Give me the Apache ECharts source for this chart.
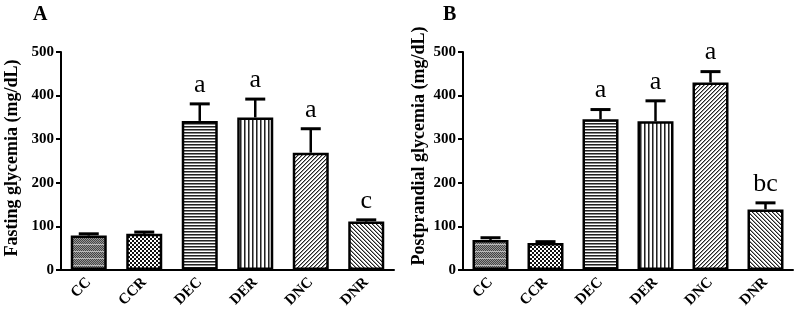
<!DOCTYPE html>
<html>
<head>
<meta charset="utf-8">
<script src="https://cdn.jsdelivr.net/npm/echarts@6/dist/echarts.min.js"></script>
<style>html,body{margin:0;padding:0;background:#fff}#c{width:800px;height:315px}</style>
</head>
<body>
<div id="c"></div>
<script>
var categories = ['CC', 'CCR', 'DEC', 'DER', 'DNC', 'DNR'];
var fastingMean = [79, 83, 342, 350, 269, 111];
var fastingSem = [4, 4, 39, 42, 55, 4];
var fastingLetters = ['', '', 'a', 'a', 'a', 'c'];
var postMean = [69, 62, 346, 341, 430, 139];
var postSem = [5, 3, 22, 47, 25, 15];
var postLetters = ['', '', 'a', 'a', 'a', 'bc'];
var yTicks = [0, 100, 200, 300, 400, 500];

var FONT = '"Liberation Serif", "Times New Roman", serif';

function tile(w, h, fn) {
  var c = document.createElement('canvas');
  c.width = w; c.height = h;
  var ctx = c.getContext('2d');
  ctx.fillStyle = '#fff'; ctx.fillRect(0, 0, w, h);
  for (var y = 0; y < h; y++) for (var x = 0; x < w; x++) {
    var col = fn(x, y);
    if (col) { ctx.fillStyle = col; ctx.fillRect(x, y, 1, 1); }
  }
  return { image: c, repeat: 'repeat' };
}
var patterns = [
  tile(2, 7, function (x, y) { if (y === 6) return '#bbb'; return ((x + y) % 2 === 0) ? '#444' : '#999'; }),
  tile(4, 4, function (x, y) { return ((Math.floor(x / 2) + Math.floor(y / 2)) % 2 === 0) ? '#111' : null; }),
  tile(1, 3, function (x, y) { return y === 0 ? '#222' : (y === 1 ? '#888' : null); }),
  tile(4, 1, function (x, y) { return x === 0 ? '#222' : (x === 1 ? '#888' : null); }),
  tile(4, 4, function (x, y) { var k = (x + y) % 4; return k === 0 ? '#222' : (k === 1 ? '#999' : null); }),
  tile(4, 4, function (x, y) { var k = ((x - y) % 4 + 4) % 4; return k === 0 ? '#222' : (k === 1 ? '#999' : null); })
];

function barData(vals) {
  return vals.map(function (v, i) {
    return { value: v, itemStyle: { color: patterns[i] } };
  });
}
function errData(mean, sem) {
  return mean.map(function (m, i) { return [i, m, sem[i]]; });
}
function errRender(letters) {
  return function (params, api) {
    var i = api.value(0), m = api.value(1), s = api.value(2);
    var p0 = api.coord([i, m]);
    var p1 = api.coord([i, m + s]);
    var children = [
      { type: 'line', shape: { x1: p0[0], y1: p0[1], x2: p1[0], y2: p1[1] }, style: { stroke: '#000', lineWidth: 2.5 } },
      { type: 'line', shape: { x1: p1[0] - 10, y1: p1[1], x2: p1[0] + 10, y2: p1[1] }, style: { stroke: '#000', lineWidth: 3 } }
    ];
    var lab = letters[params.dataIndex];
    if (lab) {
      children.push({ type: 'text', x: p1[0], y: p1[1] - 6, style: { text: lab, fill: '#000', font: '26px ' + FONT, textAlign: 'center', textVerticalAlign: 'bottom' } });
    }
    return { type: 'group', children: children };
  };
}

function yAxis(idx, name, gap, pad) {
  return {
    gridIndex: idx, type: 'value', min: yTicks[0], max: yTicks[yTicks.length - 1], interval: yTicks[1] - yTicks[0],
    name: name, nameLocation: 'middle', nameGap: gap,
    nameTextStyle: { fontFamily: FONT, fontWeight: 'bold', fontSize: 18, color: '#000', padding: pad },
    axisLine: { show: true, lineStyle: { color: '#000', width: 2 } },
    axisTick: { show: true, length: 5, lineStyle: { color: '#000', width: 2 } },
    axisLabel: { fontFamily: FONT, fontWeight: 'bold', fontSize: 15, color: '#000', margin: 7 },
    splitLine: { show: false }
  };
}
function xAxis(idx) {
  return {
    gridIndex: idx, type: 'category', data: categories,
    axisLine: { lineStyle: { color: '#000', width: 2 } },
    axisTick: { alignWithLabel: true, length: 5, lineStyle: { color: '#000', width: 2 } },
    axisLabel: { rotate: 45, fontFamily: FONT, fontWeight: 'bold', fontSize: 15, color: '#000', margin: 10 }
  };
}

var chart = echarts.init(document.getElementById('c'), null, { renderer: 'canvas' });
chart.setOption({
  animation: false,
  backgroundColor: '#fff',
  graphic: [
    { type: 'text', left: 33, top: 5, style: { text: 'A', font: 'bold 20px ' + FONT, fill: '#000' } },
    { type: 'text', left: 443, top: 5, style: { text: 'B', font: 'bold 20px ' + FONT, fill: '#000' } }
  ],
  grid: [
    { left: 61, right: 406, top: 52, bottom: 45 },
    { left: 463, right: 7, top: 52, bottom: 45 }
  ],
  xAxis: [xAxis(0), xAxis(1)],
  yAxis: [yAxis(0, 'Fasting glycemia (mg/dL)', 40, [0, 0, 0, 6]), yAxis(1, 'Postprandial glycemia (mg/dL)', 35, [0, 0, 0, 30])],
  series: [
    { type: 'bar', xAxisIndex: 0, yAxisIndex: 0, barWidth: 36, data: barData(fastingMean), itemStyle: { borderColor: '#000', borderWidth: 2.5 } },
    { type: 'custom', xAxisIndex: 0, yAxisIndex: 0, data: errData(fastingMean, fastingSem), renderItem: errRender(fastingLetters), z: 1 },
    { type: 'bar', xAxisIndex: 1, yAxisIndex: 1, barWidth: 36, data: barData(postMean), itemStyle: { borderColor: '#000', borderWidth: 2.5 } },
    { type: 'custom', xAxisIndex: 1, yAxisIndex: 1, data: errData(postMean, postSem), renderItem: errRender(postLetters), z: 1 }
  ]
});
</script>
</body>
</html>
